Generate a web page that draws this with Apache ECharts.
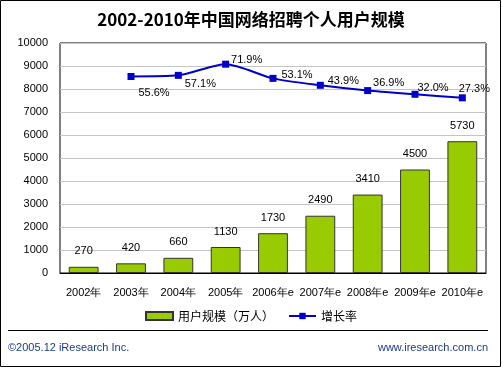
<!DOCTYPE html>
<html><head><meta charset="utf-8">
<script src="https://cdn.jsdelivr.net/npm/echarts@6/dist/echarts.min.js"></script>
<style>html,body{margin:0;padding:0;background:#fff}#c{width:502px;height:368px}</style>
</head><body><div id="c"></div>
<script>
const categories = ['2002年','2003年','2004年','2005年','2006年e','2007年e','2008年e','2009年e','2010年e'];
const users = [270,420,660,1130,1730,2490,3410,4500,5730];
const growth = [null,55.6,57.1,71.9,53.1,43.9,36.9,32.0,27.3];
const growthLabelOffsets = [null,[23,16],[22,9],[21,-4],[24,-3],[23,-4],[21,-8],[18,-6],[12,-9]];
const yTicks = [0,1000,2000,3000,4000,5000,6000,7000,8000,9000,10000];

const F = '"Liberation Sans","DejaVu Sans",sans-serif';
const chart = echarts.init(document.getElementById('c'));
chart.setOption({
  animation:false,
  backgroundColor:'#fff',
  title:{text:'2002-2010年中国网络招聘个人用户规模',left:'center',top:6,
    textStyle:{fontFamily:'"Noto Sans CJK SC",sans-serif',fontSize:17,fontWeight:'bold',color:'#000'}},
  legend:{top:305,left:'center',itemGap:14,itemWidth:27,itemHeight:8,
    textStyle:{fontFamily:'"Noto Sans CJK SC",sans-serif',fontSize:12,color:'#000'},
    data:[{name:'用户规模（万人）',icon:'rect'},{name:'增长率'}]},
  grid:{left:60,right:16,top:43,bottom:95,show:true,borderColor:'#000',borderWidth:1},
  xAxis:{type:'category',data:categories,
    axisLine:{lineStyle:{color:'#000'}},axisTick:{show:false},
    axisLabel:{fontFamily:F,fontSize:11,color:'#000',margin:14,interval:0}},
  yAxis:[{type:'value',min:yTicks[0],max:yTicks[yTicks.length-1],interval:1000,
    axisLine:{show:false},axisTick:{show:false},
    splitLine:{lineStyle:{color:'#c4c4c4'}},
    axisLabel:{fontFamily:F,fontSize:11,color:'#000',margin:12,formatter:v=>String(v)}},
    {type:'value',min:-205,max:100,show:false,splitLine:{show:false}}],
  series:[
    {name:'用户规模（万人）',type:'bar',data:users,barWidth:'63%',
      itemStyle:{color:'#99cc00',borderColor:'#333',borderWidth:1},
      label:{show:true,position:'top',distance:10,fontFamily:F,fontSize:11,color:'#000'}},
    {name:'增长率',type:'line',yAxisIndex:1,smooth:0.25,
      data:growth.map((v,i)=>v==null?null:{value:v,label:{offset:growthLabelOffsets[i]}}),
      symbol:'rect',symbolSize:7,
      lineStyle:{color:'#0000cc',width:2},itemStyle:{color:'#0000cc'},
      label:{show:true,position:'inside',fontFamily:F,fontSize:11,color:'#000',
        formatter:p=>p.value.toFixed(1)+'%'}}
  ],
  graphic:[
    {type:'rect',shape:{x:0.5,y:0.5,width:500,height:366},style:{fill:null,stroke:'#000',lineWidth:1},silent:true},
    {type:'line',shape:{x1:8,y1:330.5,x2:488,y2:330.5},style:{stroke:'#000',lineWidth:1}},
    {type:'text',left:8,top:342,style:{text:'©2005.12 iResearch Inc.',font:'11px "Liberation Sans",sans-serif',fill:'#1a3a8a'}},
    {type:'text',right:14,top:342,style:{text:'www.iresearch.com.cn',font:'11px "Liberation Sans",sans-serif',fill:'#1a3a8a'}}
  ]
});
</script></body></html>
